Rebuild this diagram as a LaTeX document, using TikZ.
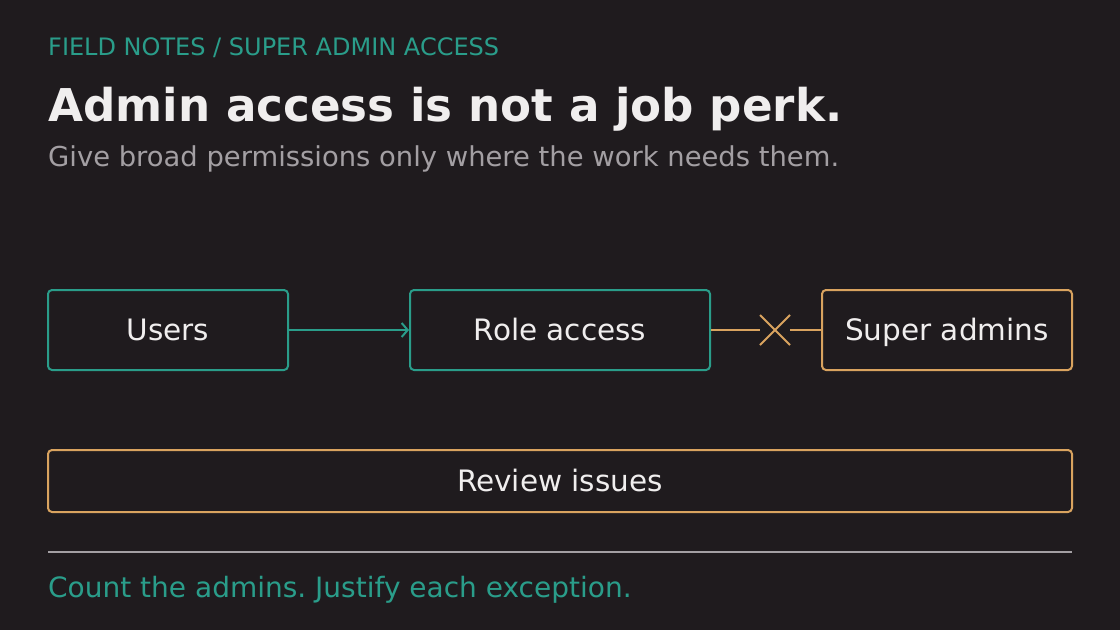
\documentclass[tikz,border=0pt]{standalone}
\usepackage{fontspec}
\setmainfont{DejaVu Sans}
\usetikzlibrary{positioning, arrows.meta}
\definecolor{bgdark}{HTML}{1F1B1E}
\definecolor{tealc}{HTML}{2A9D8A}
\definecolor{amberc}{HTML}{D9A35F}
\definecolor{inkc}{HTML}{F0EEEE}
\definecolor{mutedc}{HTML}{A39FA3}
\tikzset{
  box/.style={draw, line width=2pt, rounded corners=4pt, inner sep=0pt,
    text=inkc, font=\fontsize{29.5}{34}\selectfont, minimum height=80pt,
    text height=24pt, text depth=3pt},
  tealbox/.style={box, draw=tealc},
  amberbox/.style={box, draw=amberc},
  label/.style={anchor=base west, inner sep=0pt}
}
\frenchspacing
\begin{document}
\begin{tikzpicture}[x=1pt, y=-1pt]
  % Hintergrund
  \fill[bgdark] (0,0) rectangle (1120,630);
  \useasboundingbox (0,0) rectangle (1120,630);

  % Kopf
  \node[label, text=tealc, font=\fontsize{24}{28}\selectfont] (kicker) at (48,55) {FIELD NOTES / SUPER ADMIN ACCESS};
  \node[label, text=inkc, font=\bfseries\fontsize{45.2}{52}\selectfont] (title) at (48,121) {Admin access is not a job perk.};
  \node[label, text=mutedc, font=\fontsize{27.4}{32}\selectfont] (sub) at (48,166) {Give broad permissions only where the work needs them.};

  % Kaesten
  \node[tealbox, minimum width=240pt] (users) at (168,330) {Users};
  \node[tealbox, minimum width=300pt] (role) at (560,330) {Role access};
  \node[amberbox, minimum width=250pt] (super) at (947,330) {Super admins};
  \node[amberbox, minimum width=1024pt, minimum height=62pt] (review) at (560,481) {Review issues};

  % Verbindungen
  \draw[tealc, line width=2pt, -{Straight Barb[length=6pt, width=14pt, line width=2pt]}] (users) -- (role);
  \coordinate (cross) at (775,330);
  \draw[amberc, line width=2pt] (role) -- ([xshift=-15pt]cross);
  \draw[amberc, line width=2pt] ([xshift=15pt]cross) -- (super);
  \draw[amberc, line width=2pt] ([shift={(-15,-15)}]cross) -- ([shift={(15,15)}]cross)
                                ([shift={(-15,15)}]cross) -- ([shift={(15,-15)}]cross);

  % Fuss
  \draw[mutedc, line width=2pt] (48,552) -- (1072,552);
  \node[label, text=tealc, font=\fontsize{28}{32}\selectfont] (foot) at (48,597) {Count the admins. Justify each exception.};
\end{tikzpicture}
\end{document}
